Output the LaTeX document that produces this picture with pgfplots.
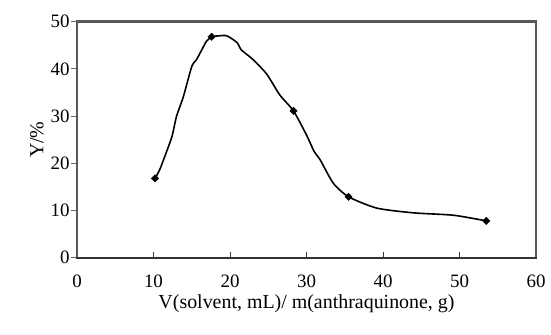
\documentclass[border=0pt]{standalone}
\usepackage{pgfplots}
\pgfplotsset{compat=1.18}
\usepackage{fontspec}
\setmainfont{Liberation Serif}
\begin{document}
\begin{tikzpicture}
\begin{axis}[
  scale only axis,
  width=459bp, height=236bp,
  xmin=0, xmax=60, ymin=0, ymax=50,
  xtick={0,10,...,60}, ytick={0,10,...,50},
  axis line style={draw=none},
  tick align=inside,
  major tick length=6bp,
  xtick pos=bottom, ytick pos=left,
  xtick style={black!80, line width=1pt},
  ytick style={black!60, line width=1pt, xshift=-6bp},
  /pgf/number format/assume math mode=true,
  tick label style={font=\fontsize{19}{22}\selectfont},
  xticklabel style={yshift=-14bp},
  yticklabel style={xshift=-4bp},
  xlabel={V(solvent, mL)/ m(anthraquinone, g)},
  ylabel={Y/\%},
  label style={font=\fontsize{20}{23}\selectfont},
  clip=false,
]
\addplot[black, line width=1.6pt, smooth, tension=0.4] coordinates {
 (10.2,16.8) (10.8,18.6) (11.3,20.7) (12.4,25.6) (13.0,29.9) (13.9,34.1)
 (15.0,40.5) (15.6,41.9) (16.3,44.0) (16.9,45.8) (17.6,46.8) (18.5,47.0)
 (19.6,47.0) (20.9,45.6) (21.5,44.0) (23.0,42.0) (24.8,38.9) (26.5,34.5)
 (28.3,31.1) (30.0,26.0) (31.0,22.5) (31.8,20.7) (33.5,15.8) (35.5,12.9)
 (39.2,10.5) (44.0,9.5) (49.2,9.0) (53.5,7.8)
};
\addplot[only marks, mark=square*, mark size=2.6pt, mark options={rotate=45}, black] coordinates {
 (10.2,16.8) (17.6,46.8) (28.3,31.1) (35.5,12.9) (53.5,7.8)
};
\end{axis}
\fill[black!65] ([shift={(-1.2bp,-1.2bp)}]current axis.south west) rectangle ([shift={(1.2bp,0bp)}]current axis.north west);
\fill[black!65] ([shift={(-1.2bp,-1.2bp)}]current axis.north west) rectangle ([shift={(1.2bp,1.2bp)}]current axis.north east);
\fill[black!65] ([shift={(-1.2bp,-1.2bp)}]current axis.south east) rectangle ([shift={(1.2bp,0bp)}]current axis.north east);
\fill[black!80] ([shift={(-1.2bp,-1bp)}]current axis.south west) rectangle ([shift={(1.2bp,1bp)}]current axis.south east);
\pgfresetboundingbox
\path (current axis.south west) ++(-77bp,-77.3bp) coordinate (bl);
\path (current axis.north east) ++(15bp,21.7bp) coordinate (tr);
\path[use as bounding box] (bl) rectangle (tr);
\end{tikzpicture}
\end{document}
